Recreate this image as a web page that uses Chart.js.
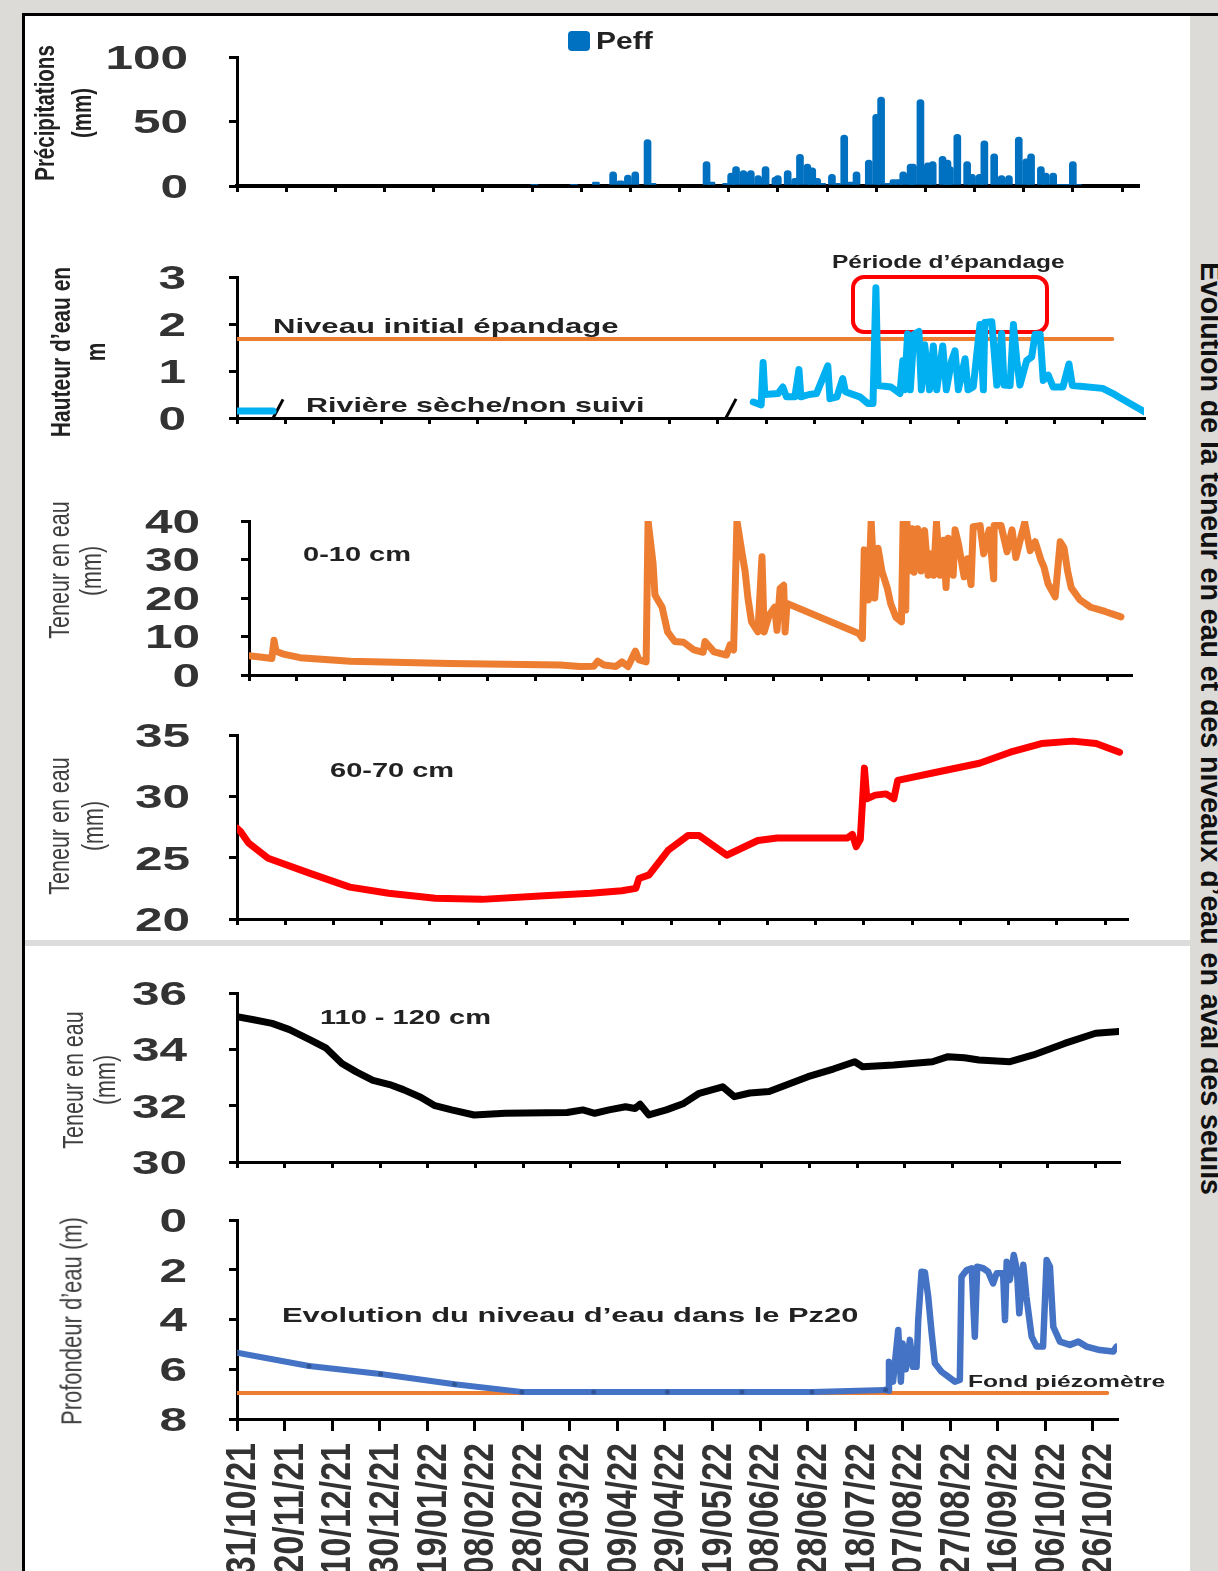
<!DOCTYPE html>
<html>
<head>
<meta charset="utf-8">
<script src="https://cdn.jsdelivr.net/npm/chart.js@4.4.1/dist/chart.umd.min.js"></script>
<style>
html,body{margin:0;padding:0;}
body{width:1218px;height:1571px;position:relative;overflow:hidden;background:#dcdbd7;font-family:"Liberation Sans",Arial,sans-serif;}
#sheet{position:absolute;left:22px;top:14px;width:1168px;height:1557px;background:#fff;box-sizing:border-box;border-left:3px solid #000;}
#topline{position:absolute;left:22px;top:13px;width:1196px;height:3px;background:#000;}
#sep{position:absolute;left:25px;top:940px;width:1165px;height:6px;background:#dcdcdc;}
canvas{position:absolute;left:0;}
.t{position:absolute;white-space:nowrap;color:#222;font-weight:bold;line-height:1;transform-origin:0 0;}
.yt{position:absolute;white-space:nowrap;line-height:1;transform:translate(-50%,-50%) rotate(-90deg) scaleY(1.35);}
#title{position:absolute;left:1226px;top:262px;white-space:nowrap;line-height:1;font-weight:bold;font-size:28.5px;color:#111;transform-origin:0 0;transform:rotate(90deg) scaleY(1.05);}
#box{position:absolute;left:851px;top:275px;width:198px;height:59px;border:4px solid #f00;border-radius:13px;box-sizing:border-box;}
#legsq{position:absolute;left:568px;top:31px;width:22px;height:20px;background:#0070c0;border-radius:4px;}
</style>
</head>
<body>
<div id="sheet"></div>
<div id="topline"></div>
<div id="sep"></div>
<div id="title">Evolution de la teneur en eau et des niveaux d’eau en aval des seuils</div>
<div id="legsq"></div>
<div id="box"></div>
<script>
// ---------------- DATA ----------------
// x values are days since 31/10/21
const tickDays = [0,20,40,60,80,100,120,140,160,180,200,220,240,260,280,300,320,340,360];
const dateLabels = ['31/10/21','20/11/21','10/12/21','30/12/21','19/01/22','08/02/22','28/02/22','20/03/22','09/04/22','29/04/22','19/05/22','08/06/22','28/06/22','18/07/22','07/08/22','27/08/22','16/09/22','06/10/22','26/10/22'];

// Panel 1 : effective precipitation (mm)
const precipDays   = [121,137,146,153,156,159,162,167,169,191,193,199,201,203,206,209,212,215,219,220,224,227,229,232,234,236,238,242,244,247,250,252,257,260,262,265,267,269,271,274,275,278,281,283,287,289,290,293,297,299,302,304,308,311,314,318,321,323,327,329,332,335,338,340,342];
const precipValues = [1,1,3,11,4,8.5,11,36,2,19,3,2,10,15,12,12,8,15,7,8,12,6,24.5,17,14,6,2,9,2,39.5,3,11,20,55.5,69,2,5,5,11,17,17,67,18,19,23,20,15,40,19,9,9,35,25,8,8,38,21,25,15,10,10,1,1,19,1];
const precipTicks = [0,50,100];

// Panel 2 : river water height (m)  [day, value]  (null = not monitored)
const riverHeight = [[0,0.15],[15,0.15],[16,null],[214.7,0.34],[218,0.28],[218.8,1.18],[219.5,0.5],[225,0.52],[227,0.66],[228.5,0.45],[232,0.45],[233.7,1.03],[234.5,0.45],[238,0.5],[241,0.52],[245.7,1.11],[246.6,0.41],[249.5,0.45],[251.9,0.84],[253,0.56],[259,0.45],[262.4,0.31],[264.5,0.31],[265.7,2.77],[266.6,0.69],[272,0.66],[275.7,0.52],[276.9,1.22],[277.6,0.6],[278.9,1.79],[280,0.6],[281.5,1.78],[283.6,1.84],[284.6,0.6],[286,1.56],[288,0.6],[289.6,1.53],[291,0.6],[293.5,1.53],[295,0.6],[297.2,1.22],[298.6,1.43],[300,0.6],[302.8,1.26],[304,0.6],[306.2,0.66],[309,1.99],[310.4,0.6],[311,2.03],[313.9,2.05],[316,0.7],[318,1.8],[319,0.7],[321.5,0.69],[322.9,1.99],[324.3,1.22],[325.6,0.7],[328.4,1.22],[330.5,1.3],[331.9,1.78],[334,1.78],[335.3,0.8],[337.4,0.91],[339.4,0.66],[343.5,0.66],[346,1.15],[347.4,0.69],[360,0.63],[364.3,0.52],[367.2,0.43],[377.5,0.13]];
const initialLevel = [[0,1.68],[364,1.68]];
const breakMarks = [[17,0.19],[205.4,0.2]];
const heightTicks = [0,1,2,3];

// Panel 3 : water content 0-10 cm (mm)
const wc0_10 = [[0,5.0],[5.5,4.6],[9.6,4.3],[10.5,9],[11.3,6.2],[14,5.5],[21.4,4.5],[42.4,3.6],[84.3,3.0],[130.5,2.6],[138.8,2.2],[144.7,2.3],[146.3,3.6],[148.9,2.6],[153.9,2.2],[156.5,3.4],[159,2.2],[162.1,6.2],[163.6,3.9],[166.6,3.4],[167.4,40],[169.5,29],[170.3,20.8],[173.3,17.6],[175.6,11.2],[178.6,8.7],[182.3,8.5],[186.7,6.5],[190.5,5.9],[191.3,8.7],[195.1,6],[200.3,5.2],[201.8,7.8],[203.3,6.5],[204.7,40],[207,31],[208.1,27],[209.3,20],[210.8,13.8],[213.5,11.2],[215.2,30.7],[216.1,11.2],[218.2,15.5],[220.5,17.6],[221.5,11.6],[222.8,22.5],[224.3,23.3],[224.9,11.2],[225.7,18.6],[255.8,10.8],[257.3,9.5],[258.1,32.5],[259.8,19.5],[261,40],[262.5,20],[263.9,32.9],[265.5,27],[267.7,22.7],[269.2,18.5],[271.4,15],[273.7,13.8],[274.4,39.6],[275.5,16.9],[276,40],[276.7,27],[278.2,38],[279,26.7],[280.5,38],[282,27],[283.4,37.5],[284.9,25.9],[285.7,31.5],[287.2,25.9],[288.4,39.6],[289.9,25.9],[291.4,35],[292.4,22.7],[293.3,35.5],[295.4,25.9],[296.2,37.7],[297.7,33.8],[300,25.5],[301.4,30.2],[302.9,23.5],[303.8,38.5],[306.7,38.8],[308.2,31.5],[310.5,37.7],[312.4,25],[312.6,38.8],[315.5,38.8],[318,32],[320.1,37.7],[321.7,30.5],[323.9,36],[325.4,39.6],[327.7,32.3],[329.8,34.6],[332.2,29.9],[333.5,28],[335.2,23.7],[338.2,20.3],[340.3,34.6],[341.9,33],[343.4,27],[344.9,22.7],[348.6,19.5],[353.1,17.6],[359.1,16.5],[365.8,15.1]];
const wc0_10Ticks = [0,10,20,30,40];

// Panel 4 : water content 60-70 cm (mm)
const wc60_70 = [[0,27.4],[1.6,27.1],[4.8,26.2],[12.9,24.95],[30.6,23.7],[46.8,22.6],[62.9,22.1],[82.2,21.7],[101.5,21.6],[127.4,21.9],[146.7,22.1],[159.6,22.3],[165.4,22.5],[166.7,23.3],[170.9,23.6],[178.8,25.6],[187,26.8],[191.7,26.8],[203.1,25.2],[216,26.4],[224,26.6],[253,26.6],[255.2,26.9],[256.8,25.9],[258.5,26.5],[260.2,32.3],[261.2,29.8],[264.7,30.1],[269.2,30.2],[272.4,29.8],[274,31.3],[288.5,31.9],[307.9,32.7],[320.7,33.6],[333.6,34.3],[346.6,34.5],[356.3,34.3],[366,33.6]];
const wc60_70Ticks = [20,25,30,35];

// Panel 5 : water content 110-120 cm (mm)
const wc110_120 = [[0,35.16],[7,35.05],[14.7,34.92],[22,34.7],[30.9,34.33],[37.4,34.04],[44,33.5],[50,33.2],[57,32.9],[64,32.75],[70,32.56],[77,32.3],[83,32.0],[90,31.85],[99.4,31.67],[112.4,31.73],[138.4,31.76],[145,31.85],[150,31.73],[156,31.85],[162.9,31.96],[166.9,31.9],[169,32.05],[172.7,31.67],[180,31.85],[187.3,32.08],[193.8,32.44],[203.6,32.67],[208.5,32.32],[215,32.45],[223.1,32.5],[239.4,33.03],[250,33.3],[259,33.56],[262.3,33.38],[275.3,33.44],[291.6,33.56],[298.1,33.74],[305,33.7],[311.1,33.62],[324.1,33.56],[333.9,33.8],[347,34.21],[360,34.57],[369.8,34.63]];
const wc110_120Ticks = [30,32,34,36];

// Panel 6 : Pz20 water depth (m)
const pzManual = [[0,5.33],[30.3,5.87],[60.4,6.19],[91.5,6.6],[119.8,6.91],[150,6.91],[181,6.91],[212.4,6.91],[241.8,6.91],[272.8,6.83]];
const pzLogger = [[272.8,6.83],[273.9,6.86],[274.2,5.7],[275.9,6.5],[278.1,4.42],[279.2,6.5],[279.9,4.96],[281.3,6.0],[283,4.82],[284.3,5.9],[285.8,5.9],[286.5,4.02],[287.9,2.08],[289.3,2.1],[290.7,3.08],[292.1,4.5],[293.5,5.76],[296.3,6.1],[299.1,6.3],[301.9,6.5],[304,6.43],[304.7,2.28],[306.9,2.01],[309,1.94],[310.3,4.69],[311.3,1.88],[313.8,1.94],[315.9,2.08],[318,2.55],[319.5,2.14],[322.2,2.14],[323,4.02],[323.7,1.68],[325,2.41],[326.7,1.41],[328,2.0],[329,3.75],[330.7,1.8],[332,3.08],[334.2,4.69],[336.3,5.09],[339,5.09],[340.5,1.61],[341.9,1.88],[343.3,4.29],[346.1,4.89],[350.3,5.02],[353.8,4.89],[357.3,5.09],[362.9,5.23],[368.5,5.29],[369.9,5.09]];
const pzBottom = [[0,6.95],[366,6.95]];
const depthTicks = [0,2,4,6,8];

// ---------------- HELPERS ----------------
const toXY = arr => arr.map(p => ({x: p[0], y: p[1]}));

const wideTicks = {
  id: 'wideTicks',
  afterDraw(chart, args, o) {
    const ctx = chart.ctx;
    if (o.y) {
      const s = chart.scales.y, c = o.y;
      ctx.save();
      ctx.fillStyle = c.color; ctx.font = 'bold ' + c.size + 'px "Liberation Sans", Arial, sans-serif';
      ctx.textAlign = 'right'; ctx.textBaseline = 'alphabetic';
      s.ticks.forEach(t => {
        const y = s.getPixelForValue(t.value);
        ctx.save(); ctx.translate(c.right, y + 0.36 * c.size); ctx.scale(c.stretch, 1);
        ctx.fillText(String(t.value), 0, 0); ctx.restore();
      });
      ctx.restore();
    }
    if (o.x) {
      const s = chart.scales.x, c = o.x;
      ctx.save();
      ctx.fillStyle = c.color; ctx.font = 'bold ' + c.size + 'px "Liberation Sans", Arial, sans-serif';
      ctx.textAlign = 'right'; ctx.textBaseline = 'alphabetic';
      s.ticks.forEach((t, i) => {
        const x = s.getPixelForValue(t.value);
        ctx.save(); ctx.translate(x + c.dx, c.top); ctx.scale(c.stretch, 1); ctx.rotate(-Math.PI / 2);
        ctx.fillText(c.labels[i], 0, 0.36 * c.size); ctx.restore();
      });
      ctx.restore();
    }
  }
};

function makePanel(cfg) {
  const padTop = 12;
  const plotH = cfg.yBot - cfg.yTop;
  const canvasTop = cfg.yTop - padTop;
  const H = cfg.canvasBottom ? cfg.canvasBottom - canvasTop : plotH + padTop + 26;
  const xAxisH = H - padTop - plotH;
  const c = document.createElement('canvas');
  c.width = 1218; c.height = H;
  c.style.top = canvasTop + 'px'; c.style.width = '1218px'; c.style.height = H + 'px';
  document.body.appendChild(c);
  const yTicks = cfg.yTicks;
  const bw = cfg.axisWidth || 3;
  new Chart(c, {
    type: cfg.type || 'line',
    data: {datasets: cfg.datasets},
    options: {
      responsive: false, animation: false, devicePixelRatio: 1, events: [],
      layout: {padding: {left: 0, right: 1218 - cfg.xEnd, top: padTop, bottom: 0}},
      plugins: {legend: {display: false}, tooltip: {enabled: false},
        wideTicks: {y: {right: cfg.labelRight, size: 33, stretch: 1.5, color: '#333'}, x: cfg.dateAxis || null}},
      scales: {
        x: {type: 'linear', min: 0, max: cfg.xMax, offset: false,
          afterBuildTicks: s => { s.ticks = tickDays.map(v => ({value: v})); },
          afterFit: s => { s.height = xAxisH; },
          ticks: {display: false},
          grid: {drawOnChartArea: false, drawTicks: true, tickLength: cfg.xTickLen || 6, color: '#000', lineWidth: 3, offset: false},
          border: {display: true, color: '#000', width: bw}},
        y: {type: 'linear', min: yTicks[0], max: yTicks[yTicks.length - 1], reverse: !!cfg.reverse,
          afterBuildTicks: s => { s.ticks = yTicks.map(v => ({value: v})); },
          afterFit: s => { s.width = cfg.x0; },
          ticks: {display: false},
          grid: {drawOnChartArea: false, drawTicks: true, tickLength: 8, color: '#000', lineWidth: 3},
          border: {display: true, color: '#000', width: 3}}
      }
    },
    plugins: [wideTicks]
  });
}

const lineDs = (data, color, w, extra) => Object.assign({
  type: 'line', data: toXY(data), borderColor: color, backgroundColor: color, borderWidth: w,
  pointRadius: 0, tension: 0, borderJoinStyle: 'round', borderCapStyle: 'round', spanGaps: false
}, extra || {});

// Panel 1
makePanel({x0: 237, xEnd: 1138, xMax: 366.5, yTop: 57, yBot: 186, yTicks: precipTicks, labelRight: 188, type: 'bar', axisWidth: 4,
  datasets: [{type: 'bar', data: precipDays.map((d, i) => ({x: d, y: precipValues[i]})), backgroundColor: '#0070c0',
    barThickness: 7, borderRadius: {topLeft: 3.5, topRight: 3.5}, borderSkipped: 'start'}]});

// Panel 2
makePanel({x0: 237, xEnd: 1144, xMax: 377.2, yTop: 275, yBot: 418, yTicks: heightTicks, labelRight: 186,
  datasets: [
    lineDs(riverHeight, '#00b0f0', 7),
    lineDs(initialLevel, '#ed7d31', 4),
    {type: 'line', data: toXY(breakMarks), showLine: false, pointStyle: 'line', pointRadius: 11, pointRotation: -62,
      pointBorderWidth: 3, pointBorderColor: '#000', clip: false}
  ]});

// Panel 3
makePanel({x0: 249, xEnd: 1131, xMax: 370, yTop: 521, yBot: 675, yTicks: wc0_10Ticks, labelRight: 200,
  datasets: [lineDs(wc0_10, '#ed7d31', 7)]});

// Panel 4
makePanel({x0: 237, xEnd: 1127, xMax: 369.1, yTop: 735, yBot: 919, yTicks: wc60_70Ticks, labelRight: 190,
  datasets: [lineDs(wc60_70, '#ff0000', 7)]});

// Panel 5
makePanel({x0: 237, xEnd: 1119, xMax: 369.8, yTop: 993, yBot: 1162, yTicks: wc110_120Ticks, labelRight: 187,
  datasets: [lineDs(wc110_120, '#000000', 7)]});

// Panel 6
makePanel({x0: 237, xEnd: 1117, xMax: 370.1, yTop: 1220, yBot: 1419, yTicks: depthTicks, labelRight: 187, reverse: true,
  xTickLen: 12, canvasBottom: 1571,
  dateAxis: {labels: dateLabels, size: 34, stretch: 1.25, color: '#333', top: 1443 - 1208, dx: 3},
  datasets: [
    lineDs(pzManual, '#4472c4', 6, {pointRadius: 2.5, pointBackgroundColor: '#2f5597', pointBorderWidth: 0}),
    lineDs(pzLogger, '#4472c4', 6.5),
    lineDs(pzBottom, '#ed7d31', 4)
  ]});

// ---------------- TEXTS ----------------
function txt(s, x, base, size, stretch, weight, color) {
  const d = document.createElement('div');
  d.className = 't'; d.textContent = s;
  d.style.left = x + 'px'; d.style.top = (base - 0.846 * size) + 'px';
  d.style.fontSize = size + 'px'; d.style.transform = 'scaleX(' + stretch + ')';
  if (weight) d.style.fontWeight = weight;
  if (color) d.style.color = color;
  document.body.appendChild(d);
}
function ytitle(s, cx, cy, size, weight, color) {
  const d = document.createElement('div');
  d.className = 'yt'; d.textContent = s;
  d.style.left = cx + 'px'; d.style.top = cy + 'px';
  d.style.fontSize = size + 'px'; d.style.fontWeight = weight; d.style.color = color;
  document.body.appendChild(d);
}
txt('Peff', 596, 49, 24, 1.25);
txt('Période d’épandage', 832, 268, 18, 1.36);
txt('Niveau initial épandage', 273, 333, 21, 1.48);
txt('Rivière sèche/non suivi', 306, 412, 21, 1.45);
txt('0-10 cm', 303, 561, 20, 1.45);
txt('60-70 cm', 330, 777, 20, 1.45);
txt('110 - 120 cm', 320, 1024, 20, 1.45);
txt('Evolution du niveau d’eau dans le Pz20', 282, 1322, 21, 1.47);
txt('Fond piézomètre', 968, 1387, 17, 1.45);

ytitle('Précipitations', 45, 113, 20.5, 'bold', '#222');
ytitle('(mm)', 82, 113, 20.5, 'bold', '#222');
ytitle('Hauteur d’eau en', 60, 352, 21, 'bold', '#222');
ytitle('m', 95, 352, 21, 'bold', '#222');
ytitle('Teneur en eau', 61, 570, 21.5, 'normal', '#3f3f3f');
ytitle('(mm)', 93, 571, 21.5, 'normal', '#3f3f3f');
ytitle('Teneur en eau', 61, 826, 21.5, 'normal', '#3f3f3f');
ytitle('(mm)', 95, 826, 21.5, 'normal', '#3f3f3f');
ytitle('Teneur en eau', 75, 1080, 21.5, 'normal', '#3f3f3f');
ytitle('(mm)', 107, 1080, 21.5, 'normal', '#3f3f3f');
ytitle('Profondeur d’eau (m)', 72, 1321, 22, 'normal', '#3f3f3f');
</script>
</body>
</html>
